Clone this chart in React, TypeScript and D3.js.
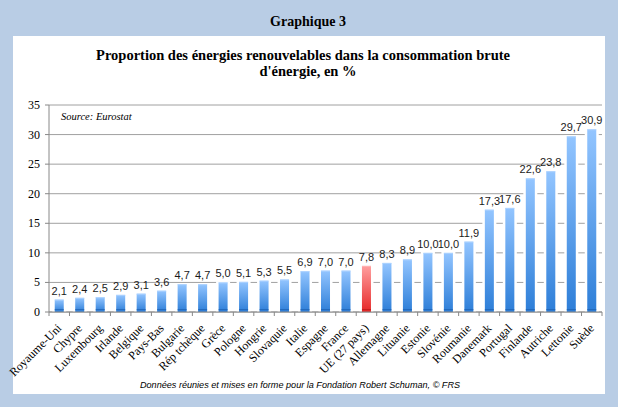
import React from "react";
import * as d3 from "d3";

const categories = [
  "Royaume-Uni", "Chypre", "Luxembourg", "Irlande", "Belgique", "Pays-Bas", "Bulgarie",
  "Rép tchèque", "Grèce", "Pologne", "Hongrie", "Slovaquie", "Italie", "Espagne", "France",
  "UE (27 pays)", "Allemagne", "Lituanie", "Estonie", "Slovénie", "Roumanie", "Danemark",
  "Portugal", "Finlande", "Autriche", "Lettonie", "Suède",
];
const values = [
  2.1, 2.4, 2.5, 2.9, 3.1, 3.6, 4.7, 4.7, 5.0, 5.1, 5.3, 5.5, 6.9, 7.0, 7.0, 7.8, 8.3, 8.9,
  10.0, 10.0, 11.9, 17.3, 17.6, 22.6, 23.8, 29.7, 30.9,
];
const highlighted = ["UE (27 pays)"];
const yTicks = [0, 5, 10, 15, 20, 25, 30, 35];

const W = 618;
const H = 407;
const serif = "Liberation Serif, DejaVu Serif, serif";
const sans = "Liberation Sans, Arial, sans-serif";

export default function App() {
  const x = d3
    .scaleBand<string>()
    .domain(categories)
    .range([49, 602])
    .paddingInner(0.56)
    .paddingOuter(0.28);
  const y = d3.scaleLinear().domain([0, 35]).range([312, 105]);
  const step = x.step();
  const x0 = 49;
  const fmt = (v: number) => v.toFixed(1).replace(".", ",");

  return (
    <svg
      width={W}
      height={H}
      style={{ position: "absolute", left: 0, top: 0 }}
      xmlns="http://www.w3.org/2000/svg"
    >
      <defs>
        <linearGradient id="gBlue" x1="0" y1="0" x2="0" y2="1">
          <stop offset="0%" stopColor="#93c5ff" />
          <stop offset="100%" stopColor="#2d7ed8" />
        </linearGradient>
        <linearGradient id="gRed" x1="0" y1="0" x2="0" y2="1">
          <stop offset="0%" stopColor="#ff9e9e" />
          <stop offset="100%" stopColor="#e62828" />
        </linearGradient>
      </defs>
      <rect x={0} y={0} width={W} height={H} fill="#b9cde5" />
      <text
        x={308}
        y={26}
        textAnchor="middle"
        style={{ fontFamily: serif }}
        fontWeight="bold"
        fontSize={14}
        fill="#000"
      >
        Graphique 3
      </text>
      <rect x={13} y={36} width={592} height={358} fill="#ffffff" />
      <text textAnchor="middle" style={{ fontFamily: serif }} fontWeight="bold" fontSize={14.5} fill="#000">
        <tspan x={303} y={60}>
          Proportion des énergies renouvelables dans la consommation brute
        </tspan>
        <tspan x={308} y={76}>
          d'énergie, en %
        </tspan>
      </text>

      {/* gridlines */}
      {yTicks.map((t) => (
        <line key={"g" + t} x1={x0} x2={602} y1={y(t)} y2={y(t)} stroke="#a0a0a0" strokeWidth={1} />
      ))}
      <text x={61} y={120} style={{ fontFamily: serif }} fontStyle="italic" fontSize={10.5} fill="#000">
        Source: Eurostat
      </text>

      {/* y axis */}
      <line x1={x0} x2={x0} y1={y(35)} y2={y(0)} stroke="#888" />
      {yTicks.map((t) => (
        <g key={"yt" + t}>
          <line x1={x0 - 4} x2={x0} y1={y(t)} y2={y(t)} stroke="#888" />
          <text
            x={40}
            y={y(t) + 4}
            textAnchor="end"
            style={{ fontFamily: serif }}
            fontSize={12}
            fill="#000"
          >
            {t}
          </text>
        </g>
      ))}

      {/* bars */}
      {categories.map((c, i) => {
        const bx = x(c)!;
        const bw = x.bandwidth();
        const top = y(values[i]);
        const red = highlighted.includes(c);
        return (
          <g key={c}>
            <rect x={bx - 2.5} y={top - 1} width={bw + 5} height={y(0) - top + 1} fill="#ffffff" />
            <rect x={bx} y={top} width={bw} height={y(0) - top} fill={red ? "url(#gRed)" : "url(#gBlue)"} />
            <rect x={bx} y={top} width={bw} height={1} fill={red ? "#ffb8b8" : "#b3d6ff"} opacity={0.8} />
            <rect x={bx} y={y(0) - 3} width={bw} height={1.2} fill={red ? "#b81818" : "#1c5fb0"} opacity={0.7} />
            <text
              x={bx + bw / 2}
              y={top - 5}
              textAnchor="middle"
              style={{ fontFamily: sans }}
              fontSize={11}
              fill="#1a1a1a"
            >
              {fmt(values[i])}
            </text>
          </g>
        );
      })}

      {/* x axis */}
      <line x1={x0} x2={602} y1={y(0)} y2={y(0)} stroke="#888" />
      {d3.range(categories.length + 1).map((i) => (
        <line
          key={"xt" + i}
          x1={x0 + i * step}
          x2={x0 + i * step}
          y1={y(0)}
          y2={y(0) + 4}
          stroke="#888"
        />
      ))}
      {categories.map((c) => {
        const cx = x(c)! + x.bandwidth() / 2 + 3;
        const cy = y(0) + 17;
        return (
          <text
            key={"xl" + c}
            transform={`translate(${cx},${cy}) rotate(-45)`}
            textAnchor="end"
            style={{ fontFamily: serif }}
            fontSize={12}
            fill="#000"
          >
            {c}
          </text>
        );
      })}

      <text
        x={300}
        y={388}
        textAnchor="middle"
        style={{ fontFamily: sans }}
        fontStyle="italic"
        fontSize={9.1}
        fill="#000"
      >
        Données réunies et mises en forme pour la Fondation Robert Schuman, © FRS
      </text>
    </svg>
  );
}
